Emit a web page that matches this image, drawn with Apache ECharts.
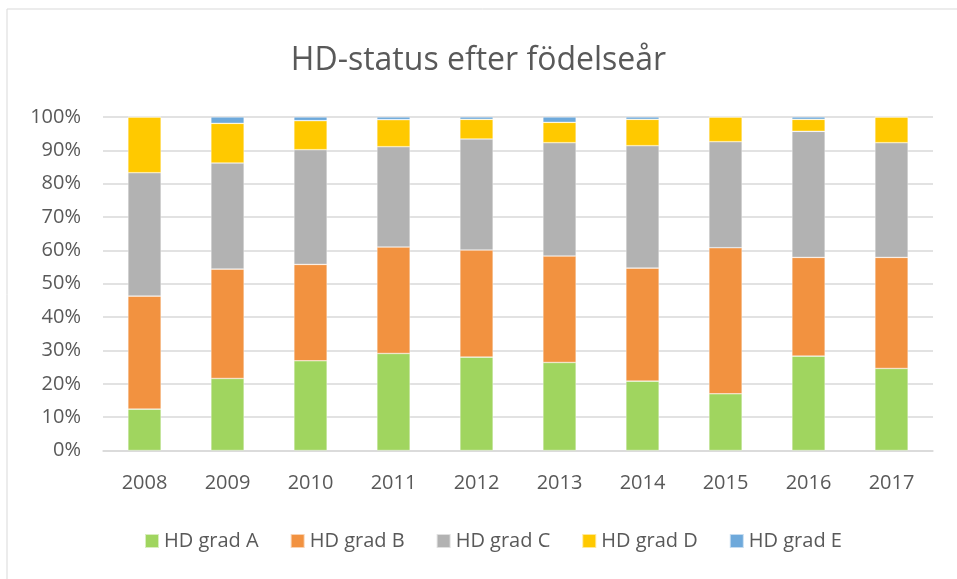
<!DOCTYPE html>
<html>
<head>
<meta charset="utf-8">
<script src="https://cdn.jsdelivr.net/npm/echarts@6/dist/echarts.min.js"></script>
<style>
html,body{margin:0;padding:0;background:#fff;}
#chart{width:957px;height:579px;}
</style>
</head>
<body>
<div id="chart"></div>
<script>
var years = ['2008','2009','2010','2011','2012','2013','2014','2015','2016','2017'];
var seriesNames = ['HD grad A','HD grad B','HD grad C','HD grad D','HD grad E'];
var gradA = [12.4, 21.6, 26.9, 29.1, 28.0, 26.4, 20.8, 17.0, 28.3, 24.6];
var gradB = [33.9, 32.8, 28.9, 31.9, 32.1, 31.9, 33.9, 43.8, 29.6, 33.3];
var gradC = [37.0, 31.8, 34.4, 30.1, 33.3, 34.0, 36.7, 31.8, 37.8, 34.4];
var gradD = [16.7, 11.9, 8.7, 8.1, 5.9, 6.1, 7.9, 7.4, 3.6, 7.7];
var gradE = [0, 1.9, 1.1, 0.8, 0.7, 1.6, 0.7, 0, 0.7, 0];
var colors = ['#A0D55F','#F29240','#B2B2B2','#FFC900','#6EA9DB'];

var Chart = {
	init: function(){
		var myChart = echarts.init(document.getElementById('chart'));
		var values = [gradA, gradB, gradC, gradD, gradE];
		var series = [];
		for(var i=0;i<seriesNames.length;i++){
			series.push({
				name: seriesNames[i],
				type: 'bar',
				stack: 'total',
				barWidth: '40%',
				data: values[i],
				itemStyle: {
					color: colors[i],
					borderColor: 'rgba(255,255,255,0.6)',
					borderWidth: 0.6
				}
			});
		}
		var font = '"Open Sans", sans-serif';
		var option = {
			backgroundColor: '#fff',
			animation: false,
			color: colors,
			title: {
				text: 'HD-status efter födelseår',
				left: 'center',
				top: 40,
				textStyle: {
					fontFamily: font,
					fontWeight: 'normal',
					fontSize: 32,
					color: '#595959'
				}
			},
			legend: {
				bottom: 23,
				left: 139,
				itemWidth: 14,
				itemHeight: 14,
				itemGap: 31,
				icon: 'rect',
				data: seriesNames,
				textStyle: {
					fontFamily: font,
					fontSize: 20,
					color: '#595959'
				}
			},
			grid: {
				left: 103,
				right: 24,
				top: 117,
				bottom: 128.5,
				containLabel: false
			},
			xAxis: {
				type: 'category',
				data: years,
				axisTick: {show: false},
				axisLine: {lineStyle: {color: '#D9D9D9', width: 1.5}},
				axisLabel: {
					fontFamily: font,
					fontSize: 20,
					color: '#595959',
					margin: 23
				}
			},
			yAxis: {
				type: 'value',
				min: 0,
				max: 100,
				interval: 10,
				axisLine: {show: false},
				axisTick: {show: false},
				splitLine: {lineStyle: {color: '#D9D9D9', width: 1.5}},
				axisLabel: {
					fontFamily: font,
					fontSize: 20,
					color: '#595959',
					margin: 22,
					formatter: '{value}%'
				}
			},
			graphic: [{
				type: 'rect',
				shape: {x: 7, y: 9, width: 960, height: 580},
				style: {fill: 'none', stroke: '#D9D9D9', lineWidth: 1},
				silent: true
			}],
			series: series
		};
		myChart.setOption(option);
	}
};
Chart.init();
</script>
</body>
</html>
